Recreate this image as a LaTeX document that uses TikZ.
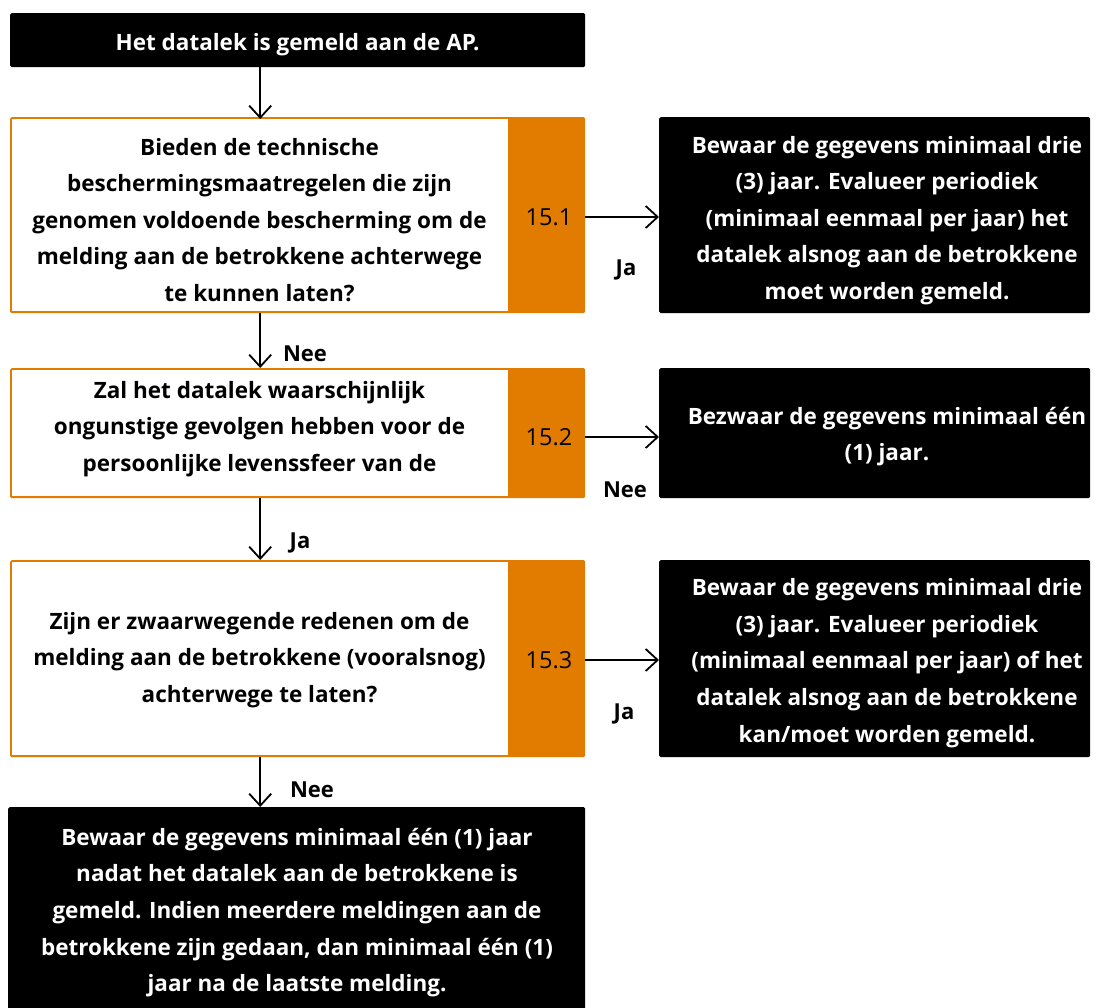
\documentclass[tikz,border=0pt]{standalone}
\usepackage{fontspec}
\setmainfont{Open Sans}[BoldFont={* Bold}]
\usetikzlibrary{arrows.meta}
\definecolor{rijksorange}{RGB}{225,124,0}
\tikzset{
  lbl/.style={font=\fontsize{22.5}{36.6}\selectfont\bfseries, align=center, inner sep=0pt},
  wlbl/.style={lbl, text=white},
  blackbox/.style={fill=black, rounded corners=1.5pt, inner sep=0pt, anchor=north west},
  orangebox/.style={fill=rijksorange, rounded corners=1.5pt, inner sep=0pt, anchor=north west},
  whitebox/.style={fill=white, inner sep=0pt, anchor=north west},
  numlbl/.style={font=\fontsize{23.5}{26}\selectfont, inner sep=0pt},
  edgelbl/.style={font=\fontsize{22}{26}\selectfont\bfseries, inner sep=0pt},
  arr/.style={draw=black, line width=1.8pt, -{Straight Barb[length=12pt,width=22pt,line width=1.8pt]}}
}
\begin{document}
\begin{tikzpicture}[x=1pt,y=-1pt]
\useasboundingbox (0,0) rectangle (1102,1008);
% top
\node[blackbox, minimum width=575pt, minimum height=54pt] (start) at (10,13) {};
\node[wlbl] (ts) at (297.5,45) {Het datalek is gemeld aan de AP.};
% box 1
\node[orangebox, minimum width=575pt, minimum height=196pt] (o1) at (10,117) {};
\node[whitebox, minimum width=496pt, minimum height=192pt] (q1) at (12,119) {};
\node[lbl] (t1) at (259.5,220) {Bieden de technische\\beschermingsmaatregelen die zijn\\genomen voldoende bescherming om de\\melding aan de betrokkene achterwege\\te kunnen laten?};
\node[numlbl] (n1) at (549,217) {15.1};
\node[blackbox, minimum width=431pt, minimum height=196pt] (r1) at (659,117) {};
\node[wlbl] (tr1) at (887,220.5) {Bewaar de gegevens minimaal drie\\(3) jaar. Evalueer periodiek\\(minimaal eenmaal per jaar) het\\datalek alsnog aan de betrokkene\\moet worden gemeld.};
% box 2
\node[orangebox, minimum width=575pt, minimum height=130pt] (o2) at (10,368) {};
\node[whitebox, minimum width=496pt, minimum height=126pt] (q2) at (12,370) {};
\node[lbl] (t2) at (259.5,429) {Zal het datalek waarschijnlijk\\ongunstige gevolgen hebben voor de\\persoonlijke levenssfeer van de};
\node[numlbl] (n2) at (549,437) {15.2};
\node[blackbox, minimum width=431pt, minimum height=130pt] (r2) at (659,368) {};
\node[wlbl] (tr2) at (887,436.5) {Bezwaar de gegevens minimaal één\\(1) jaar.};
% box 3
\node[orangebox, minimum width=575pt, minimum height=197pt] (o3) at (10,560) {};
\node[whitebox, minimum width=496pt, minimum height=193pt] (q3) at (12,562) {};
\node[lbl] (t3) at (259.5,660) {Zijn er zwaarwegende redenen om de\\melding aan de betrokkene (vooralsnog)\\achterwege te laten?};
\node[numlbl] (n3) at (549,660) {15.3};
\node[blackbox, minimum width=431pt, minimum height=197pt] (r3) at (659,560) {};
\node[wlbl] (tr3) at (887,663) {Bewaar de gegevens minimaal drie\\(3) jaar. Evalueer periodiek\\(minimaal eenmaal per jaar) of het\\datalek alsnog aan de betrokkene\\kan/moet worden gemeld.};
% bottom
\node[blackbox, minimum width=577pt, minimum height=205pt] (fin) at (8,807) {};
\node[wlbl] (tf) at (297,912.5) {Bewaar de gegevens minimaal één (1) jaar\\nadat het datalek aan de betrokkene is\\gemeld. Indien meerdere meldingen aan de\\betrokkene zijn gedaan, dan minimaal één (1)\\jaar na de laatste melding.};
% connectors
\draw[arr] (start.south -| q1.north) -- (q1.north);
\draw[arr] (o1.south -| q1.south) -- (o2.north -| q2.north);
\draw[arr] (o2.south -| q2.south) -- (o3.north -| q3.north);
\draw[arr] (o3.south -| q3.south) -- (fin.north -| q3.south);
\draw[arr] (o1.east |- n1) -- (r1.west |- n1);
\draw[arr] (o2.east |- n2) -- (r2.west |- n2);
\draw[arr] (o3.east |- n3) -- (r3.west |- n3);
% edge labels
\node[edgelbl] (l1) at (626,270) {Ja};
\node[edgelbl] (l2) at (305,354) {Nee};
\node[edgelbl] (l3) at (625,490) {Nee};
\node[edgelbl] (l4) at (300,543) {Ja};
\node[edgelbl] (l5) at (624,714) {Ja};
\node[edgelbl] (l6) at (312,790) {Nee};
\end{tikzpicture}
\end{document}
